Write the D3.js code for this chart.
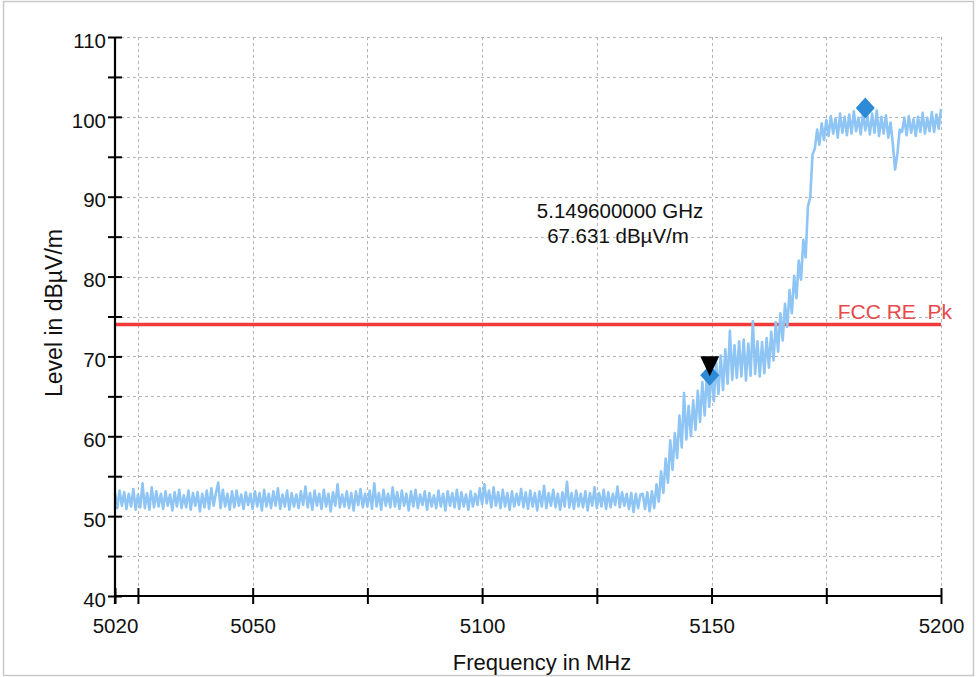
<!DOCTYPE html>
<html>
<head>
<meta charset="utf-8">
<script src="https://cdn.jsdelivr.net/npm/d3@7"></script>
<style>
  html, body { margin: 0; padding: 0; background: #fff; }
  svg { display: block; font-family: "Liberation Sans", Arial, sans-serif; }
</style>
</head>
<body>
<svg id="chart" width="976" height="677"></svg>
<script>
// Sweep definition (MHz)
const sweepStart = 5020;
const sweepStep = 0.5;

// Measured level in dBµV/m, 5020.0 – 5134.5 MHz (noise floor)
const levelsFloor = [
  52.9,51.0,53.2,51.3,53.0,50.9,52.8,51.2,53.4,50.8,52.7,51.1,54.1,51.0,52.9,50.8,53.6,51.1,53.1,51.2,
  52.8,50.9,53.1,51.3,52.7,50.7,53.0,51.2,53.3,51.0,52.6,51.1,53.2,50.8,52.9,51.3,53.0,50.6,52.8,51.1,
  53.2,50.9,53.5,51.3,52.9,54.2,51.0,53.3,51.2,52.8,50.8,53.1,51.1,53.2,51.3,52.7,50.9,53.0,51.4,52.8,
  50.9,53.1,51.2,52.9,50.7,53.3,51.2,52.8,51.0,53.1,51.3,53.5,50.9,52.7,51.2,53.2,50.8,52.9,51.2,52.7,
  51.0,53.1,51.4,53.7,51.1,52.9,50.8,53.2,51.3,52.8,50.9,53.3,51.2,52.8,50.6,53.0,51.3,54.0,51.1,52.7,
  51.2,53.1,51.0,52.9,50.7,53.1,51.4,53.4,51.1,52.8,51.2,53.2,50.9,54.1,51.2,52.9,50.8,53.3,51.3,52.8,
  51.1,53.6,51.2,53.0,50.9,53.2,51.3,52.8,50.7,53.1,51.2,53.3,51.0,52.7,51.4,53.1,50.8,52.9,51.2,52.6,
  51.0,53.2,51.2,52.8,50.7,53.1,51.3,52.9,51.1,53.3,50.9,53.0,51.2,52.7,50.8,53.1,51.2,52.8,51.4,53.5,
  51.5,54.0,51.6,53.2,51.1,53.6,51.3,53.0,51.0,53.3,51.2,52.9,50.8,53.1,51.2,52.8,51.4,53.4,51.1,53.0,
  50.9,53.2,51.2,52.9,50.7,53.1,51.2,53.8,51.0,52.9,51.3,53.3,51.1,52.8,50.8,53.0,51.2,54.3,51.1,52.9,
  50.9,53.2,51.2,52.8,51.1,53.1,50.7,52.9,51.3,53.6,51.0,52.9,51.2,53.3,50.9,53.0,51.1,52.8,51.4,53.7,
  51.1,53.0,51.3,52.8,50.9,52.9,50.5,52.8,51.0,52.7
];

// 5135.0 – 5174.5 MHz (band edge)
const levelsEdge = [
  52.8,50.9,53.0,50.6,53.1,51.0,54.0,51.8,55.6,52.9,
  57.2,54.2,59.5,55.8,60.4,57.3,62.6,58.6,65.4,59.6,
  63.8,60.0,64.5,60.8,65.7,61.8,66.8,62.6,67.9,63.7,
  68.6,64.4,69.4,65.3,70.1,65.8,70.9,66.6,73.2,67.1,
  71.4,67.3,71.9,67.5,72.1,67.0,71.6,67.6,74.4,67.8,
  71.9,67.5,71.8,67.9,72.3,68.6,73.1,69.5,74.3,70.6,
  75.4,72.0,76.6,73.7,78.3,75.4,80.1,77.3,82.0,79.6,
  84.6,82.4,88.8,89.9,95.3,96.0,98.4,96.5,99.2,97.1
];

// 5175.0 – 5200.0 MHz (in-band)
const levelsBand = [
  99.6,97.6,100.1,97.9,99.8,97.4,100.4,98.0,100.0,97.7,
  100.3,97.9,100.7,98.2,99.9,97.8,100.5,98.3,100.1,97.8,
  100.4,98.0,100.8,97.6,100.0,97.9,100.2,97.4,99.3,96.6,
  93.4,95.4,98.4,98.1,99.9,97.7,100.1,98.0,99.7,97.6,
  100.0,98.1,100.5,97.9,99.9,98.2,100.6,98.1,100.3,98.5,101.0
];

// Limit line
const limitLevel = 74;
const limitLabel = "FCC RE  Pk";

// Markers: frequency (MHz) and level (dBµV/m)
const markerFreqs = [5149.6, 5183.5];
const markerLevels = [67.631, 101.1];
const activeMarker = 0;

// Axis ticks
const yTicks = [40,45,50,55,60,65,70,75,80,85,90,95,100,105,110];
const yLabelTicks = [40,50,60,70,80,90,100,110];
const xTicks = [5020,5025,5050,5075,5100,5125,5150,5175,5200];
const xLabelTicks = [5020,5050,5100,5150,5200];

const xTitle = "Frequency in MHz";
const yTitle = "Level in dBµV/m";

const levels = levelsFloor.concat(levelsEdge, levelsBand);
const trace = levels.map((v, i) => ({ f: sweepStart + i * sweepStep, v }));

const svg = d3.select("#chart");
const W = 976, H = 677;
const ink = "#111";

// outer frame
svg.append("rect")
  .attr("x", 3.5).attr("y", 1.5)
  .attr("width", W - 6).attr("height", H - 3)
  .attr("fill", "#fff")
  .attr("stroke", "#c9c9c9").attr("stroke-width", 1.5);

const x = d3.scaleLinear().domain([5020, 5200]).range([115, 941]);
const y = d3.scaleLinear().domain([40, 110]).range([596, 37]);

// grid
const grid = svg.append("g")
  .attr("stroke", "#b4b4b4")
  .attr("stroke-width", 1)
  .attr("stroke-dasharray", "3,3");
grid.selectAll("line.h")
  .data(yTicks.filter(t => t > 40))
  .join("line")
  .attr("x1", x(5020)).attr("x2", x(5200))
  .attr("y1", d => Math.round(y(d)) + 0.5).attr("y2", d => Math.round(y(d)) + 0.5);
grid.selectAll("line.v")
  .data(xTicks.filter(t => t > 5020))
  .join("line")
  .attr("x1", d => Math.round(x(d)) + 0.5).attr("x2", d => Math.round(x(d)) + 0.5)
  .attr("y1", y(110)).attr("y2", y(40));

// limit line
svg.append("line")
  .attr("x1", x(5020)).attr("x2", x(5200))
  .attr("y1", y(limitLevel)).attr("y2", y(limitLevel))
  .attr("stroke", "#f23a3a").attr("stroke-width", 3.5);

// trace
const line = d3.line().x(d => x(d.f)).y(d => y(d.v));
svg.append("path")
  .datum(trace)
  .attr("d", line)
  .attr("fill", "none")
  .attr("stroke", "#8ec5f5")
  .attr("stroke-width", 2.6)
  .attr("stroke-linejoin", "round");

// limit label
svg.append("text")
  .attr("x", 952).attr("y", y(limitLevel) - 5)
  .attr("text-anchor", "end")
  .attr("fill", "#e8494c")
  .attr("font-size", 21)
  .style("white-space", "pre")
  .text(limitLabel);

// axes
const yAxis = d3.axisLeft(y)
  .tickValues(yTicks)
  .tickSize(7)
  .tickPadding(2)
  .tickFormat(d => yLabelTicks.includes(d) ? d3.format("d")(d) : "");
const gy = svg.append("g").attr("transform", `translate(${x(5020)},0)`).call(yAxis);
gy.select(".domain").attr("stroke", "#000").attr("stroke-width", 2.2)
  .attr("d", `M0,${y(110)}V${y(40) + 8}`);
gy.selectAll(".tick line").attr("x1", -7).attr("x2", 7).attr("stroke-width", 2);
gy.selectAll(".tick text").attr("font-size", 20.5).attr("fill", ink)
  .attr("font-family", "Liberation Sans, Arial, sans-serif").attr("dy", "0.5em");

const xAxis = d3.axisBottom(x)
  .tickValues(xTicks)
  .tickSize(8)
  .tickPadding(14)
  .tickFormat(d => xLabelTicks.includes(d) ? d3.format("d")(d) : "");
const gx = svg.append("g").attr("transform", `translate(0,${y(40)})`).call(xAxis);
gx.select(".domain").attr("stroke", "#000").attr("stroke-width", 2.2)
  .attr("d", `M${x(5020)},0H${x(5200)}`);
gx.selectAll(".tick line").attr("y1", -8).attr("y2", 8).attr("stroke-width", 2);
gx.selectAll(".tick text").attr("font-size", 20.5).attr("fill", ink)
  .attr("font-family", "Liberation Sans, Arial, sans-serif");

// axis titles
svg.append("text")
  .attr("x", 542).attr("y", 670)
  .attr("text-anchor", "middle")
  .attr("font-size", 22).attr("fill", ink)
  .text(xTitle);
svg.append("text")
  .attr("transform", `translate(62,313) rotate(-90)`)
  .attr("text-anchor", "middle")
  .attr("font-size", 23).attr("fill", ink)
  .text(yTitle);

// markers
const dw = 9.5, dh = 10.5;
svg.selectAll("path.marker")
  .data(markerFreqs.map((f, i) => ({ f, v: markerLevels[i] })))
  .join("path")
  .attr("class", "marker")
  .attr("transform", d => `translate(${x(d.f)},${y(d.v)})`)
  .attr("d", `M0,${-dh}L${dw},0L0,${dh}L${-dw},0Z`)
  .attr("fill", "#2c8ad6");

// active marker pointer
const am = { f: markerFreqs[activeMarker], v: markerLevels[activeMarker] };
const ax = x(am.f), ay = y(am.v);
svg.append("path")
  .attr("d", `M${ax - 9.5},${ay - 19}L${ax + 9.5},${ay - 19}L${ax},${ay + 1}Z`)
  .attr("fill", "#000");

// active marker readout
const readout = svg.append("text")
  .attr("text-anchor", "middle")
  .attr("font-size", 20.5).attr("fill", ink);
readout.append("tspan").attr("x", 620).attr("y", 218)
  .text(d3.format(".9f")(am.f / 1000) + " GHz");
readout.append("tspan").attr("x", 618).attr("y", 243)
  .text(d3.format(".3f")(am.v) + " dBµV/m");
</script>
</body>
</html>
